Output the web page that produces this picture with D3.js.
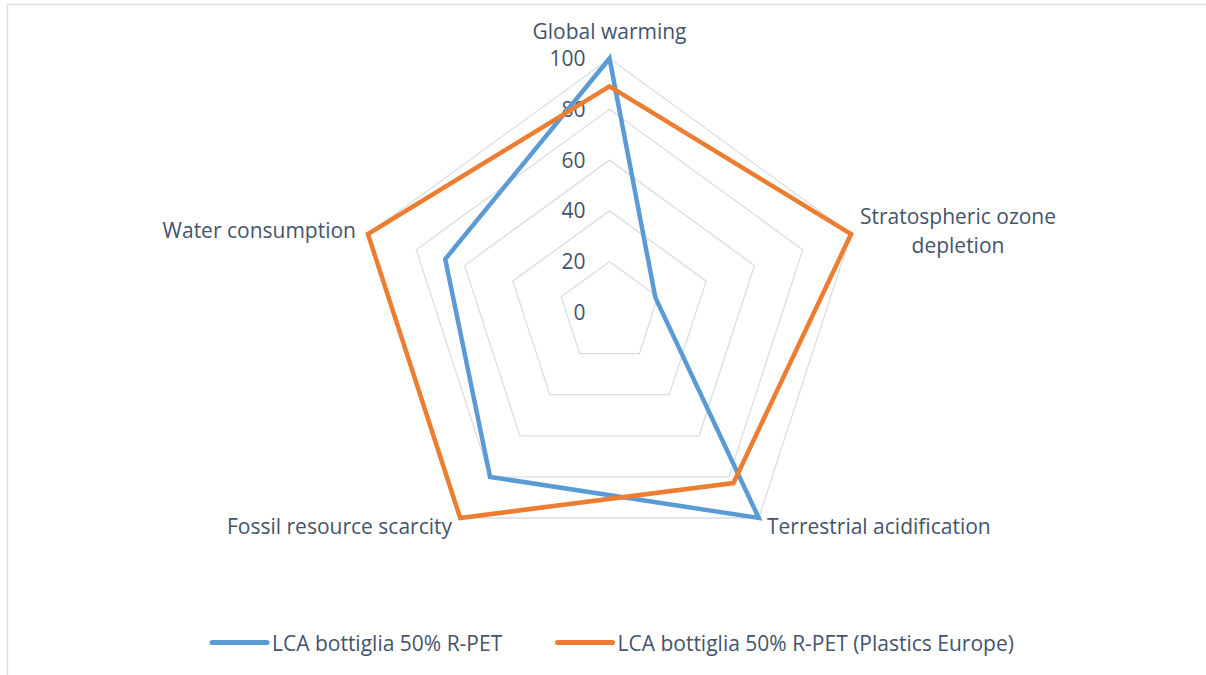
<!DOCTYPE html>
<html>
<head>
<meta charset="utf-8">
<script src="https://cdn.jsdelivr.net/npm/d3@7"></script>
<style>
  html, body { margin: 0; padding: 0; background: #ffffff; }
  svg { display: block; }
  text { font-family: "Open Sans", Lato, sans-serif; fill: #44546A; }
</style>
</head>
<body>
<svg id="chart" width="1206" height="675"></svg>
<script>
// Impact categories (radar axes, clockwise from the top)
const categories = [
  "Global warming",
  "Stratospheric ozone depletion",
  "Terrestrial acidification",
  "Fossil resource scarcity",
  "Water consumption"
];

// Normalised results per category (max = 100)
const seriesNames = [
  "LCA bottiglia 50% R-PET",
  "LCA bottiglia 50% R-PET (Plastics Europe)"
];
const bottiglia = [100, 19, 100, 80, 68];
const plasticsEurope = [89, 100, 83, 100, 100];

const ringTicks = [0, 20, 40, 60, 80, 100];
const seriesColors = ["#5B9BD5", "#ED7D31"];

const W = 1206, H = 675;
const cx = 609.5, cy = 312.5, R = 254;
const fontSize = 21;

const svg = d3.select("#chart");

// Chart-area frame (top and left edges)
svg.append("path")
  .attr("d", `M7.5,${H} L7.5,4.5 L${W},4.5`)
  .attr("fill", "none")
  .attr("stroke", "#D9DEE5")
  .attr("stroke-width", 1.5);

const r = d3.scaleLinear().domain([0, 100]).range([0, R]);
const angle = d3.scaleLinear().domain([0, categories.length]).range([0, 2 * Math.PI]);

const g = svg.append("g").attr("transform", `translate(${cx},${cy})`);

const radial = d3.lineRadial()
  .angle((d, i) => angle(i))
  .radius(d => r(d))
  .curve(d3.curveLinearClosed);

// Concentric pentagon gridlines
g.selectAll("path.ring")
  .data(ringTicks.filter(t => t > 0))
  .join("path")
  .attr("class", "ring")
  .attr("d", t => radial(categories.map(() => t)))
  .attr("fill", "none")
  .attr("stroke", "#D9DEE5")
  .attr("stroke-width", 1.3);

// Value labels along the top axis
g.selectAll("text.tick")
  .data(ringTicks)
  .join("text")
  .attr("class", "tick")
  .attr("x", -24)
  .attr("y", t => -r(t))
  .attr("dy", "0.36em")
  .attr("text-anchor", "end")
  .style("font-size", fontSize + "px")
  .text(t => t);

// Data series
const seriesData = [bottiglia, plasticsEurope];
g.selectAll("path.series")
  .data(seriesData)
  .join("path")
  .attr("class", "series")
  .attr("d", d => radial(d))
  .attr("fill", "none")
  .attr("stroke", (d, i) => seriesColors[i])
  .attr("stroke-width", 4.5)
  .attr("stroke-linejoin", "miter");

// Category labels
const catLabels = [
  { lines: ["Global warming"], x: 0, y: -274, anchor: "middle" },
  { lines: ["Stratospheric ozone", "depletion"], x: 348.5, y: -89, anchor: "middle" },
  { lines: ["Terrestrial acidification"], x: 157.5, y: 221, anchor: "start" },
  { lines: ["Fossil resource scarcity"], x: -157.5, y: 221, anchor: "end" },
  { lines: ["Water consumption"], x: -253.5, y: -75, anchor: "end" }
];
categories.forEach((c, i) => {
  const L = catLabels[i];
  const t = g.append("text")
    .attr("x", L.x)
    .attr("y", L.y)
    .attr("text-anchor", L.anchor)
    .style("font-size", fontSize + "px");
  L.lines.forEach((ln, j) => {
    t.append("tspan").attr("x", L.x).attr("dy", j === 0 ? 0 : 29).text(ln);
  });
});

// Legend
const legendItems = [
  { x: 212, name: seriesNames[0], color: seriesColors[0] },
  { x: 557.5, name: seriesNames[1], color: seriesColors[1] }
];
const lg = svg.append("g").attr("class", "legend");
legendItems.forEach(it => {
  lg.append("line")
    .attr("x1", it.x).attr("x2", it.x + 55)
    .attr("y1", 642.5).attr("y2", 642.5)
    .attr("stroke", it.color)
    .attr("stroke-width", 5)
    .attr("stroke-linecap", "round");
  lg.append("text")
    .attr("x", it.x + 60)
    .attr("y", 650.5)
    .style("font-size", fontSize + "px")
    .text(it.name);
});
</script>
</body>
</html>
